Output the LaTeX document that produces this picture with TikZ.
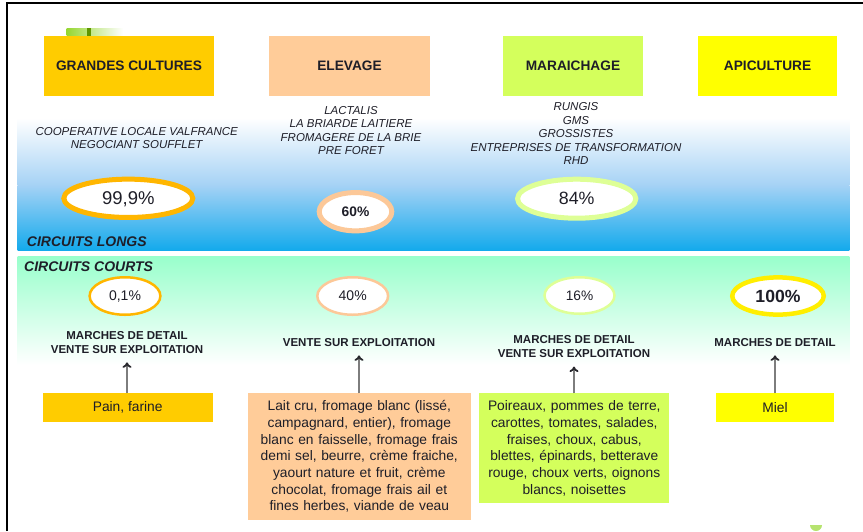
\documentclass[tikz,border=0pt]{standalone}
\usepackage{fontspec}
\setmainfont{Liberation Sans}
\usetikzlibrary{shapes.geometric,arrows.meta}

\definecolor{gc}{RGB}{255,204,0}
\definecolor{el}{RGB}{255,204,153}
\definecolor{ma}{RGB}{212,255,92}
\definecolor{ap}{RGB}{255,255,0}
\definecolor{txt}{RGB}{30,30,40}
\definecolor{bluebot}{RGB}{20,170,236}
\definecolor{bluemid}{RGB}{165,210,245}
\definecolor{mint}{RGB}{153,255,204}
\definecolor{ringor}{RGB}{255,182,0}
\definecolor{ringpe}{RGB}{252,200,152}
\definecolor{ringgr}{RGB}{222,255,150}
\definecolor{ringye}{RGB}{255,238,0}
\definecolor{arrgray}{RGB}{125,125,125}
\definecolor{arrhead}{RGB}{40,40,45}
\definecolor{decogreen}{RGB}{150,215,50}
\definecolor{decodark}{RGB}{95,150,0}

\newcommand\fsz[2]{\fontsize{#1}{#2}\selectfont}

\begin{document}
\begin{tikzpicture}[x=1pt,y=-1pt,
  headbox/.style={inner sep=0pt, outer sep=0pt, minimum height=59.7pt, font=\fsz{13.7}{16}\bfseries, text=txt},
  listtxt/.style={font=\fsz{11.5}{13.6}\itshape, align=center, text=txt, inner sep=0pt},
  ring/.style={ellipse, fill=white, inner sep=0pt, text=txt, text depth=0pt},
  labtxt/.style={font=\fsz{11.5}{13.6}\bfseries, align=center, text=txt, inner sep=0pt, outer ysep=9pt},
  prod/.style={inner sep=0pt, outer sep=0pt, align=center, font=\fsz{13.8}{16.7}, text=txt},
  circ/.style={font=\fsz{14}{16}\bfseries\itshape, text=txt, inner sep=0pt, anchor=base west},
  arr/.style={draw=arrgray, line width=1.8pt, -{To[length=5.5pt,width=9pt,color=arrhead]}}
]
\useasboundingbox (0,0) rectangle (863,531);

% frame
\draw[line width=1.7pt] (7,531) -- (7,3.3) -- (863,3.3);

% bands
\shade[top color=white, bottom color=bluemid] (17.7,118) rectangle (849.3,185.5);
\shade[top color=bluemid, bottom color=bluebot] (17.7,185) rectangle (849.3,250);
\shade[top color=mint, bottom color=white] (17.7,256.7) rectangle (849.3,365);

% decorations
\shade[left color=decogreen, right color=white] (66.7,28.3) rectangle (123,35);
\fill[decodark] (86.7,28) rectangle (90.7,36);
\fill[decogreen!70] (810,525) arc[start angle=180, end angle=0, x radius=6, y radius=6] -- cycle;

% headers
\node[headbox, fill=gc, minimum width=170pt] (hgc) at (129,65.85) {GRANDES CULTURES};
\node[headbox, fill=el, minimum width=161pt] (hel) at (349.5,65.85) {ELEVAGE};
\node[headbox, fill=ma, minimum width=139.4pt] (hma) at (573,65.85) {MARAICHAGE};
\node[headbox, fill=ap, minimum width=139.3pt] (hap) at (767.6,65.85) {APICULTURE};

% long circuit lists
\node[listtxt] (lgc) at (136.7,138) {COOPERATIVE LOCALE VALFRANCE\\NEGOCIANT SOUFFLET};
\node[listtxt] (lel) at (351,130.6) {LACTALIS\\LA BRIARDE LAITIERE\\FROMAGERE DE LA BRIE\\PRE FORET};
\node[listtxt] (lma) at (576,133.6) {RUNGIS\\GMS\\GROSSISTES\\ENTREPRISES DE TRANSFORMATION\\RHD};

% long circuit rings
\node[ring, draw=ringor, line width=5pt, minimum width=129pt, minimum height=38.3pt, font=\fsz{18.5}{20}] (r1) at (128.3,198.3) {99,9\%};
\node[ring, draw=ringpe, line width=5pt, minimum width=72.6pt, minimum height=38.3pt, font=\fsz{13.8}{16}\bfseries] (r2) at (355.5,211.7) {60\%};
\node[ring, draw=ringgr, line width=5pt, minimum width=118.3pt, minimum height=39pt, font=\fsz{17.8}{20}] (r3) at (576.7,198.7) {84\%};

\node[circ] (cl) at (26.7,246.7) {CIRCUITS LONGS};
\node[circ] (cc) at (24,271.7) {CIRCUITS COURTS};

% short circuit rings
\node[ring, draw=ringor, line width=2.5pt, minimum width=70.8pt, minimum height=37.5pt, font=\fsz{14}{16}] (r4) at (125,296) {0,1\%};
\node[ring, draw=ringpe, line width=2.5pt, minimum width=70.8pt, minimum height=37.5pt, font=\fsz{14}{16}] (r5) at (352.7,296) {40\%};
\node[ring, draw=ringgr, line width=2.5pt, minimum width=70pt, minimum height=36.5pt, font=\fsz{13.7}{16}] (r6) at (579.5,295.5) {16\%};
\node[ring, draw=ringye, line width=4.5pt, minimum width=91.5pt, minimum height=37.2pt, font=\fsz{17.6}{20}\bfseries] (r7) at (778,296) {100\%};

% short circuit labels
\node[labtxt] (lab1) at (127,342.5) {MARCHES DE DETAIL\\VENTE SUR EXPLOITATION};
\node[labtxt] (lab2) at (359,342.3) {VENTE SUR EXPLOITATION};
\node[labtxt] (lab3) at (574,346.7) {MARCHES DE DETAIL\\VENTE SUR EXPLOITATION};
\node[labtxt] (lab4) at (775,342.3) {MARCHES DE DETAIL};

% product boxes
\node[prod, fill=gc, minimum width=170pt, minimum height=28.4pt] (pgc) at (127.7,407.5) {Pain, farine};
\node[prod, fill=el, text width=222.7pt, minimum height=126.7pt] (pel) at (359.3,456.65)
  {Lait cru, fromage blanc (lissé,\\campagnard, entier), fromage\\blanc en faisselle, fromage frais\\demi sel, beurre, crème fraiche,\\yaourt nature et fruit, crème\\chocolat, fromage frais ail et\\fines herbes, viande de veau};
\node[prod, fill=ma, text width=190pt, minimum height=110pt] (pma) at (574.3,448.3)
  {Poireaux, pommes de terre,\\carottes, tomates, salades,\\fraises, choux, cabus,\\blettes, épinards, betterave\\rouge, choux verts, oignons\\blancs, noisettes};
\node[prod, fill=ap, minimum width=118pt, minimum height=28.4pt] (pap) at (775,407.5) {Miel};

% arrows
\draw[arr] (pgc.north -| lab1.south) -- (lab1.south);
\draw[arr] (pel.north -| lab2.south) -- (lab2.south);
\draw[arr] (pma.north -| lab3.south) -- (lab3.south);
\draw[arr] (pap.north -| lab4.south) -- (lab4.south);
\end{tikzpicture}
\end{document}
